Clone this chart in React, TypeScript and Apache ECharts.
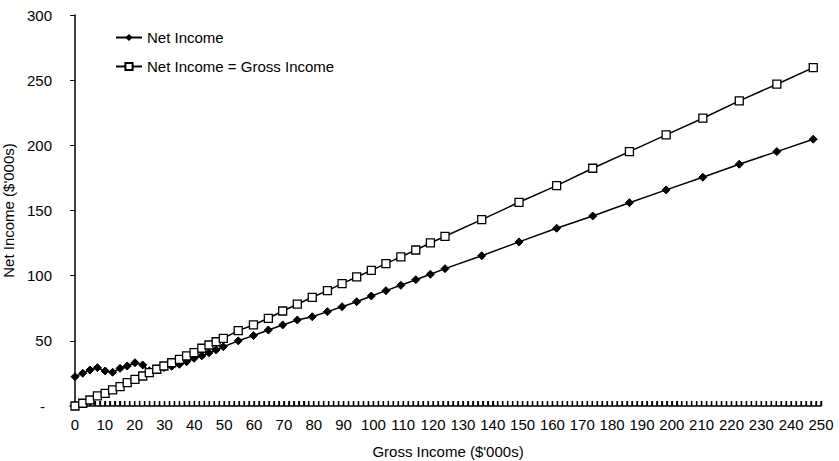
import React, { useEffect, useRef } from "react";
import * as echarts from "echarts";

// Gross income ($'000s) at each plotted point
const grossX = [
  0, 2.6, 5.0, 7.5, 10.1, 12.6, 15.1, 17.5, 20.1, 22.7, 24.9, 27.4, 29.8, 32.4, 35.0, 37.4, 39.9, 42.5, 44.9, 47.3, 49.7,
  54.7, 59.8, 64.8, 69.6, 74.5, 79.5, 84.6, 89.5, 94.4, 99.3, 104.2, 109.2, 114.2, 119.1, 124.0,
  136.3, 148.8, 161.4, 173.5, 185.8, 198.1, 210.4, 222.6, 235.2, 247.4,
];

// Net Income series values ($'000s)
const netIncome = [
  22.5, 25.1, 27.6, 29.4, 26.9, 25.9, 28.9, 30.7, 33.2, 31.5, 27.0, 28.3, 29.5, 30.5, 32.0, 34.0, 36.6, 38.5, 40.8, 43.0, 45.5,
  50.0, 54.0, 58.3, 62.2, 66.0, 68.5, 72.4, 76.2, 80.0, 84.4, 88.5, 92.6, 96.9, 101.1, 105.4,
  115.3, 125.9, 136.4, 145.8, 156.0, 165.8, 175.5, 185.5, 195.2, 204.7,
];

// "Net Income = Gross Income" series values ($'000s)
const netEqualsGross = [
  0, 2.1, 4.6, 7.7, 9.7, 12.3, 14.8, 17.9, 20.5, 23.0, 25.6, 28.2, 30.7, 33.2, 35.8, 38.4, 40.9, 44.3, 46.8, 49.3, 51.9,
  57.8, 62.2, 67.3, 72.9, 78.1, 83.4, 88.5, 93.9, 99.0, 104.1, 109.2, 114.4, 119.7, 125.1, 130.2,
  143.0, 156.3, 169.1, 182.4, 195.2, 208.0, 220.8, 234.1, 246.9, 259.6,
];

// Tick labels
const xTickLabels = [0, 10, 20, 30, 40, 50, 60, 70, 80, 90, 100, 110, 120, 130, 140, 150, 160, 170, 180, 190, 200, 210, 220, 230, 240, 250];
const yTickLabels = [0, 50, 100, 150, 200, 250, 300];

const seriesNames = ["Net Income", "Net Income = Gross Income"];

export default function App() {
  const ref = useRef<HTMLDivElement>(null);

  useEffect(() => {
    document.body.style.margin = "0";
    if (!ref.current) return;
    const chart = echarts.init(ref.current, undefined, { renderer: "svg" });

    const font = "Liberation Sans, Arial, sans-serif";
    const fs = 15;
    const gridTop = 15;
    const gridBottom = 55;
    const tickLen = 5;

    // small upward tick marks along the x axis (axis decoration, 150 divisions of 0..250)
    const tickStep = 250 / 150;
    const xAxisTicks: number[][] = [];
    for (let i = 0; i <= 150; i++) xAxisTicks.push([i * tickStep, 0]);

    chart.setOption({
      animation: false,
      backgroundColor: "#ffffff",
      textStyle: { fontFamily: font, color: "#000" },
      grid: [
        {
          left: 75,
          right: 18,
          top: gridTop,
          bottom: gridBottom,
          containLabel: false,
          outerBoundsMode: "none",
        },
        {
          left: 75,
          right: 18,
          top: 461 - gridBottom - tickLen,
          height: tickLen,
          containLabel: false,
          outerBoundsMode: "none",
        },
      ],
      legend: {
        orient: "vertical",
        left: 110,
        top: 25,
        itemWidth: 26,
        itemHeight: 9,
        itemGap: 14,
        textStyle: { fontFamily: font, fontSize: fs, color: "#000" },
        data: seriesNames,
      },
      graphic: [
        {
          type: "line",
          shape: { x1: 69.5, y1: 461 - gridBottom, x2: 75.5, y2: 461 - gridBottom },
          style: { stroke: "#000", lineWidth: 1.5 },
          silent: true,
        },
      ],
      xAxis: [
        {
          type: "value",
          gridIndex: 0,
          min: 0,
          max: 250,
          interval: 10,
          name: "Gross Income ($'000s)",
          nameLocation: "middle",
          nameGap: 38,
          nameTextStyle: { fontFamily: font, fontSize: fs, color: "#000" },
          axisLine: { show: true, onZero: false, lineStyle: { color: "#000", width: 1.5 } },
          axisTick: { show: false },
          axisLabel: {
            customValues: xTickLabels,
            margin: 11,
            fontFamily: font,
            fontSize: fs,
            color: "#000",
          },
          splitLine: { show: false },
        },
        {
          type: "value",
          gridIndex: 1,
          min: 0,
          max: 250,
          interval: tickStep,
          axisLine: { show: false },
          axisTick: { show: false },
          axisLabel: { show: false },
          splitLine: { show: true, lineStyle: { color: "#000", width: 1.2 } },
        },
      ],
      yAxis: [
        {
          type: "value",
          gridIndex: 0,
          min: 0,
          max: 300,
          interval: 50,
          offset: 5,
          name: "Net Income ($'000s)",
          nameLocation: "middle",
          nameGap: 50,
          nameTextStyle: { fontFamily: font, fontSize: fs, color: "#000" },
          axisLine: { show: true, lineStyle: { color: "#000", width: 1.5 } },
          axisTick: { show: true, length: 5, lineStyle: { color: "#000" } },
          axisLabel: {
            customValues: yTickLabels,
            margin: 18,
            fontFamily: font,
            fontSize: fs,
            color: "#000",
            formatter: (v: number) => (v === 0 ? "{dash|-}" : String(v)),
            rich: {
              dash: { fontFamily: font, fontSize: fs, color: "#000", padding: [0, 7, 0, 0] },
            },
          },
          splitLine: { show: false },
        },
        {
          type: "value",
          gridIndex: 1,
          min: 0,
          max: 1,
          axisLine: { show: false },
          axisTick: { show: false },
          axisLabel: { show: false },
          splitLine: { show: false },
        },
      ],
      series: [
        {
          name: "x-axis ticks",
          type: "scatter",
          xAxisIndex: 0,
          yAxisIndex: 0,
          silent: true,
          z: 1,
          data: xAxisTicks,
          symbol: "rect",
          symbolSize: [1.4, tickLen],
          symbolOffset: [0, -tickLen / 2],
          itemStyle: { color: "#000", opacity: 1 },
          emphasis: { disabled: true },
        },
        {
          name: seriesNames[0],
          type: "line",
          xAxisIndex: 0,
          yAxisIndex: 0,
          data: grossX.map((x, i) => [x, netIncome[i]]),
          symbol: "diamond",
          symbolSize: 8,
          z: 2,
          itemStyle: { color: "#000", borderColor: "#000" },
          lineStyle: { color: "#000", width: 1.5 },
        },
        {
          name: seriesNames[1],
          type: "line",
          xAxisIndex: 0,
          yAxisIndex: 0,
          data: grossX.map((x, i) => [x, netEqualsGross[i]]),
          symbol: "rect",
          symbolSize: 8,
          z: 3,
          itemStyle: { color: "#fff", borderColor: "#000", borderWidth: 1.3 },
          lineStyle: { color: "#000", width: 1.5 },
        },
      ],
    });

    return () => chart.dispose();
  }, []);

  return <div ref={ref} style={{ position: "fixed", left: 0, top: 0, width: 839, height: 461 }} />;
}
